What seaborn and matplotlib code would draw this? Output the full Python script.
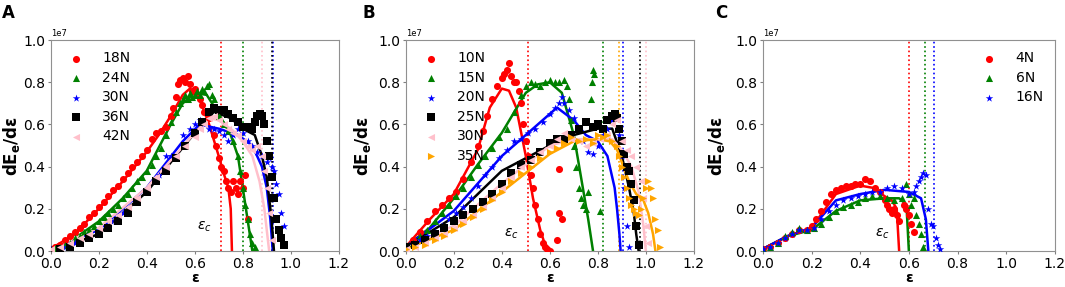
import matplotlib
matplotlib.use("Agg")
import numpy as np
import pandas as pd
import seaborn as sns
import matplotlib.pyplot as plt

# ---------------- panel A (values in units of 1e7) ----------------
a18_x = [0.0, 0.02, 0.04, 0.06, 0.08, 0.10, 0.12, 0.14, 0.16, 0.18, 0.20, 0.22, 0.24, 0.26, 0.28, 0.30,
         0.32, 0.34, 0.36, 0.38, 0.40, 0.42, 0.44, 0.46, 0.48, 0.50, 0.51, 0.52, 0.53, 0.54, 0.55, 0.56,
         0.57, 0.58, 0.59, 0.60, 0.61, 0.62, 0.63, 0.64, 0.66, 0.68, 0.69, 0.70, 0.71, 0.72, 0.73, 0.74,
         0.75, 0.76, 0.77, 0.78, 0.79, 0.80, 0.81, 0.82]
a18_y = [0.01, 0.02, 0.03, 0.05, 0.07, 0.09, 0.11, 0.13, 0.16, 0.18, 0.21, 0.23, 0.26, 0.29, 0.31, 0.34,
         0.37, 0.40, 0.42, 0.45, 0.48, 0.53, 0.56, 0.57, 0.59, 0.64, 0.68, 0.73, 0.79, 0.81, 0.82, 0.80,
         0.83, 0.79, 0.76, 0.77, 0.74, 0.72, 0.69, 0.66, 0.63, 0.55, 0.50, 0.44, 0.40, 0.38, 0.33, 0.30,
         0.28, 0.33, 0.30, 0.27, 0.33, 0.30, 0.36, 0.15]
a18_fx = [0.0, 0.1, 0.2, 0.3, 0.4, 0.45, 0.5, 0.55, 0.58, 0.62, 0.66, 0.70, 0.72, 0.74, 0.75, 0.755]
a18_fy = [0.01, 0.08, 0.2, 0.33, 0.47, 0.55, 0.64, 0.74, 0.77, 0.72, 0.6, 0.45, 0.37, 0.3, 0.2, 0.0]

a24_x = [0.0, 0.02, 0.04, 0.06, 0.08, 0.10, 0.12, 0.14, 0.16, 0.18, 0.20, 0.22, 0.24, 0.26, 0.28, 0.30,
         0.32, 0.34, 0.36, 0.38, 0.40, 0.42, 0.44, 0.46, 0.48, 0.50, 0.52, 0.54, 0.55, 0.56, 0.57, 0.58,
         0.59, 0.60, 0.61, 0.62, 0.63, 0.64, 0.65, 0.66, 0.67, 0.68, 0.69, 0.70, 0.72, 0.74, 0.76, 0.78,
         0.79, 0.80, 0.81, 0.82, 0.83, 0.84, 0.85]
a24_y = [0.01, 0.015, 0.02, 0.03, 0.04, 0.06, 0.07, 0.09, 0.10, 0.12, 0.14, 0.16, 0.18, 0.20, 0.22, 0.25,
         0.27, 0.30, 0.33, 0.35, 0.38, 0.41, 0.45, 0.49, 0.55, 0.61, 0.66, 0.70, 0.72, 0.74, 0.72, 0.75,
         0.73, 0.74, 0.76, 0.74, 0.77, 0.76, 0.78, 0.79, 0.74, 0.72, 0.68, 0.64, 0.60, 0.57, 0.52, 0.45,
         0.38, 0.30, 0.22, 0.15, 0.08, 0.04, 0.02]
a24_fx = [0.0, 0.1, 0.2, 0.3, 0.4, 0.5, 0.55, 0.6, 0.65, 0.7, 0.75, 0.78, 0.8, 0.82, 0.84]
a24_fy = [0.01, 0.06, 0.14, 0.25, 0.38, 0.6, 0.7, 0.75, 0.74, 0.65, 0.55, 0.45, 0.3, 0.15, 0.0]

a30_x = [0.0, 0.05, 0.1, 0.15, 0.2, 0.25, 0.3, 0.35, 0.4, 0.45, 0.48, 0.5, 0.55, 0.58, 0.60, 0.62,
         0.64, 0.66, 0.68, 0.70, 0.72, 0.74, 0.76, 0.78, 0.80, 0.82, 0.84, 0.86, 0.88, 0.90, 0.91, 0.92,
         0.93, 0.94, 0.95, 0.96, 0.97]
a30_y = [0.01, 0.02, 0.04, 0.07, 0.10, 0.14, 0.18, 0.23, 0.29, 0.36, 0.45, 0.45, 0.55, 0.58, 0.60, 0.62,
         0.60, 0.58, 0.58, 0.57, 0.55, 0.52, 0.55, 0.58, 0.56, 0.52, 0.50, 0.47, 0.45, 0.42, 0.44, 0.40,
         0.38, 0.32, 0.27, 0.18, 0.12]
a30_fx = [0.0, 0.2, 0.4, 0.55, 0.62, 0.7, 0.78, 0.84, 0.88, 0.9, 0.915, 0.925]
a30_fy = [0.01, 0.1, 0.3, 0.52, 0.6, 0.58, 0.55, 0.5, 0.4, 0.3, 0.15, 0.0]

a36_x = [0.0, 0.04, 0.08, 0.12, 0.16, 0.20, 0.24, 0.28, 0.32, 0.36, 0.40, 0.44, 0.48, 0.52, 0.56, 0.60,
         0.63, 0.66, 0.68, 0.70, 0.72, 0.74, 0.76, 0.78, 0.80, 0.82, 0.84, 0.85, 0.86, 0.87, 0.88, 0.89,
         0.90, 0.91, 0.92, 0.93, 0.94, 0.95, 0.96, 0.97]
a36_y = [0.0, 0.01, 0.02, 0.04, 0.06, 0.08, 0.11, 0.14, 0.18, 0.23, 0.28, 0.33, 0.38, 0.44, 0.50, 0.56,
         0.61, 0.66, 0.68, 0.67, 0.67, 0.65, 0.63, 0.61, 0.59, 0.59, 0.58, 0.61, 0.64, 0.65, 0.64, 0.60,
         0.52, 0.45, 0.35, 0.25, 0.15, 0.10, 0.06, 0.03]
a36_fx = [0.0, 0.2, 0.4, 0.6, 0.68, 0.75, 0.8, 0.85, 0.88, 0.9, 0.92, 0.93]
a36_fy = [0.0, 0.08, 0.28, 0.56, 0.66, 0.63, 0.58, 0.55, 0.45, 0.35, 0.15, 0.0]

a42_x = [0.0, 0.04, 0.08, 0.12, 0.16, 0.20, 0.24, 0.28, 0.32, 0.36, 0.40, 0.44, 0.48, 0.52, 0.56, 0.60,
         0.62, 0.64, 0.66, 0.68, 0.70, 0.72, 0.74, 0.76, 0.78, 0.80, 0.82, 0.84, 0.86, 0.88, 0.89, 0.90,
         0.91, 0.92]
a42_y = [0.01, 0.02, 0.04, 0.06, 0.08, 0.11, 0.14, 0.17, 0.21, 0.25, 0.30, 0.35, 0.40, 0.45, 0.50, 0.54,
         0.58, 0.60, 0.63, 0.64, 0.62, 0.60, 0.58, 0.56, 0.55, 0.52, 0.50, 0.48, 0.50, 0.45, 0.38, 0.30,
         0.18, 0.05]
a42_fx = [0.0, 0.2, 0.4, 0.6, 0.66, 0.7, 0.76, 0.8, 0.84, 0.87, 0.89, 0.9, 0.91]
a42_fy = [0.01, 0.11, 0.3, 0.56, 0.63, 0.62, 0.57, 0.52, 0.45, 0.33, 0.2, 0.1, 0.0]

a_crit = [0.71, 0.80, 0.925, 0.92, 0.88]

# ---------------- panel B ----------------
b10_x = [0.0, 0.03, 0.06, 0.09, 0.12, 0.15, 0.18, 0.21, 0.24, 0.27, 0.30, 0.32, 0.34, 0.36, 0.38, 0.40,
         0.41, 0.42, 0.43, 0.44, 0.45, 0.46, 0.47, 0.48, 0.49, 0.50, 0.51, 0.52, 0.53, 0.54, 0.55, 0.56,
         0.57, 0.58, 0.59, 0.60, 0.63, 0.64, 0.64, 0.65]
b10_y = [0.02, 0.05, 0.09, 0.14, 0.19, 0.22, 0.25, 0.28, 0.34, 0.42, 0.50, 0.57, 0.64, 0.72, 0.78, 0.82,
         0.84, 0.86, 0.89, 0.83, 0.80, 0.80, 0.76, 0.70, 0.60, 0.52, 0.45, 0.36, 0.30, 0.22, 0.15, 0.08,
         0.04, 0.02, 0.01, 0.0, 0.05, 0.18, 0.39, 0.15]
b10_fx = [0.0, 0.1, 0.2, 0.3, 0.35, 0.4, 0.43, 0.46, 0.5, 0.53, 0.56, 0.58, 0.6]
b10_fy = [0.02, 0.15, 0.27, 0.48, 0.68, 0.77, 0.76, 0.68, 0.45, 0.25, 0.1, 0.03, 0.0]

b15_x = [0.0, 0.03, 0.06, 0.09, 0.12, 0.15, 0.18, 0.21, 0.24, 0.27, 0.30, 0.33, 0.36, 0.39, 0.42, 0.45,
         0.48, 0.50, 0.52, 0.54, 0.56, 0.58, 0.60, 0.62, 0.64, 0.66, 0.67, 0.68, 0.69, 0.70, 0.71, 0.72,
         0.73, 0.74, 0.75, 0.76, 0.77, 0.775, 0.78, 0.785, 0.81]
b15_y = [0.02, 0.04, 0.07, 0.10, 0.14, 0.18, 0.22, 0.26, 0.30, 0.35, 0.41, 0.45, 0.49, 0.54, 0.58, 0.66,
         0.74, 0.78, 0.80, 0.79, 0.78, 0.80, 0.81, 0.80, 0.80, 0.81, 0.78, 0.72, 0.62, 0.50, 0.40, 0.30,
         0.25, 0.22, 0.20, 0.28, 0.72, 0.80, 0.86, 0.84, 0.19]
b15_fx = [0.0, 0.1, 0.2, 0.3, 0.4, 0.5, 0.55, 0.6, 0.65, 0.7, 0.73, 0.76, 0.78]
b15_fy = [0.02, 0.11, 0.25, 0.41, 0.56, 0.75, 0.79, 0.80, 0.75, 0.55, 0.35, 0.15, 0.0]

b20_x = [0.0, 0.03, 0.06, 0.09, 0.12, 0.15, 0.18, 0.21, 0.24, 0.27, 0.30, 0.33, 0.36, 0.39, 0.42, 0.45,
         0.48, 0.51, 0.54, 0.57, 0.60, 0.62, 0.64, 0.65, 0.66, 0.68, 0.70, 0.72, 0.74, 0.76, 0.78, 0.80,
         0.82, 0.84, 0.86, 0.88, 0.89, 0.90, 0.91, 0.92, 0.93]
b20_y = [0.02, 0.03, 0.05, 0.07, 0.09, 0.12, 0.15, 0.18, 0.21, 0.25, 0.31, 0.36, 0.40, 0.44, 0.48, 0.52,
         0.53, 0.56, 0.58, 0.61, 0.65, 0.68, 0.70, 0.73, 0.70, 0.67, 0.63, 0.58, 0.52, 0.47, 0.46, 0.50,
         0.55, 0.58, 0.62, 0.63, 0.55, 0.45, 0.30, 0.12, 0.02]
b20_fx = [0.0, 0.2, 0.4, 0.55, 0.63, 0.7, 0.75, 0.8, 0.84, 0.87, 0.88, 0.89, 0.895]
b20_fy = [0.02, 0.19, 0.45, 0.6, 0.68, 0.62, 0.55, 0.52, 0.45, 0.3, 0.2, 0.08, 0.0]

b25_x = [0.0, 0.04, 0.08, 0.12, 0.16, 0.20, 0.24, 0.28, 0.32, 0.36, 0.40, 0.44, 0.48, 0.52, 0.56, 0.60,
         0.63, 0.66, 0.69, 0.72, 0.75, 0.78, 0.80, 0.82, 0.84, 0.86, 0.87, 0.88, 0.89, 0.90, 0.91, 0.92,
         0.93, 0.94, 0.95, 0.96, 0.97]
b25_y = [0.02, 0.03, 0.05, 0.08, 0.11, 0.14, 0.17, 0.20, 0.23, 0.27, 0.32, 0.37, 0.41, 0.43, 0.47, 0.51,
         0.53, 0.53, 0.55, 0.58, 0.61, 0.59, 0.60, 0.58, 0.62, 0.64, 0.65, 0.63, 0.58, 0.52, 0.46, 0.40,
         0.38, 0.32, 0.24, 0.12, 0.03]
b25_fx = [0.0, 0.2, 0.4, 0.6, 0.7, 0.8, 0.86, 0.9, 0.93, 0.95, 0.96, 0.97]
b25_fy = [0.02, 0.16, 0.38, 0.5, 0.55, 0.58, 0.58, 0.45, 0.3, 0.18, 0.08, 0.0]

b30_x = [0.0, 0.04, 0.08, 0.12, 0.16, 0.20, 0.24, 0.28, 0.32, 0.36, 0.40, 0.44, 0.48, 0.52, 0.56, 0.60,
         0.63, 0.66, 0.69, 0.72, 0.75, 0.78, 0.81, 0.84, 0.86, 0.88, 0.90, 0.92, 0.94, 0.96, 0.98, 0.99,
         1.00, 1.01]
b30_y = [0.01, 0.02, 0.04, 0.06, 0.08, 0.11, 0.14, 0.17, 0.21, 0.25, 0.30, 0.35, 0.40, 0.43, 0.47, 0.50,
         0.53, 0.56, 0.53, 0.52, 0.50, 0.51, 0.53, 0.55, 0.60, 0.62, 0.52, 0.48, 0.45, 0.40, 0.33, 0.25,
         0.12, 0.04]
b30_fx = [0.0, 0.2, 0.4, 0.6, 0.7, 0.8, 0.86, 0.9, 0.94, 0.97, 0.99, 1.0]
b30_fy = [0.01, 0.12, 0.32, 0.5, 0.53, 0.53, 0.53, 0.48, 0.4, 0.28, 0.12, 0.0]

b35_x = [0.0, 0.04, 0.08, 0.12, 0.16, 0.20, 0.24, 0.28, 0.32, 0.36, 0.40, 0.44, 0.48, 0.52, 0.56, 0.60,
         0.63, 0.66, 0.69, 0.72, 0.75, 0.78, 0.80, 0.82, 0.84, 0.86, 0.88, 0.89, 0.90, 0.91, 0.92, 0.93,
         0.94, 0.95, 0.96, 0.97, 0.98, 0.99, 1.00, 1.01, 1.02, 1.03, 1.04, 1.05, 1.06]
b35_y = [0.01, 0.02, 0.03, 0.05, 0.07, 0.10, 0.13, 0.16, 0.20, 0.24, 0.28, 0.33, 0.37, 0.40, 0.44, 0.47,
         0.49, 0.51, 0.54, 0.52, 0.53, 0.51, 0.55, 0.54, 0.55, 0.52, 0.50, 0.45, 0.40, 0.35, 0.30, 0.25,
         0.22, 0.20, 0.18, 0.17, 0.20, 0.25, 0.30, 0.33, 0.30, 0.25, 0.15, 0.10, 0.02]
b35_fx = [0.0, 0.2, 0.4, 0.6, 0.7, 0.8, 0.85, 0.88, 0.9, 0.93, 0.96, 0.99, 1.01, 1.03, 1.04]
b35_fy = [0.01, 0.1, 0.28, 0.46, 0.52, 0.53, 0.52, 0.48, 0.42, 0.33, 0.27, 0.24, 0.18, 0.08, 0.0]

b_crit = [0.51, 0.82, 0.905, 0.975, 1.0, 0.89]

# ---------------- panel C ----------------
c4_x = [0.0, 0.03, 0.06, 0.09, 0.12, 0.15, 0.18, 0.20, 0.22, 0.24, 0.26, 0.28, 0.30, 0.32, 0.34, 0.36,
        0.38, 0.40, 0.42, 0.44, 0.46, 0.48, 0.50, 0.51, 0.52, 0.53, 0.54, 0.55, 0.56, 0.58, 0.59, 0.60,
        0.61, 0.62]
c4_y = [0.01, 0.02, 0.04, 0.06, 0.08, 0.10, 0.10, 0.12, 0.15, 0.19, 0.23, 0.27, 0.29, 0.30, 0.31, 0.31,
        0.32, 0.32, 0.34, 0.33, 0.30, 0.28, 0.24, 0.22, 0.20, 0.18, 0.20, 0.17, 0.14, 0.22, 0.20, 0.17,
        0.13, 0.09]
c4_fx = [0.0, 0.1, 0.2, 0.3, 0.4, 0.45, 0.5, 0.53, 0.55, 0.56]
c4_fy = [0.01, 0.07, 0.11, 0.27, 0.31, 0.3, 0.26, 0.24, 0.2, 0.0]

c6_x = [0.0, 0.03, 0.06, 0.09, 0.12, 0.15, 0.18, 0.21, 0.24, 0.27, 0.30, 0.33, 0.36, 0.39, 0.42, 0.45,
        0.48, 0.51, 0.54, 0.57, 0.59, 0.60, 0.61, 0.62, 0.63, 0.64, 0.65, 0.66]
c6_y = [0.01, 0.02, 0.04, 0.07, 0.09, 0.11, 0.10, 0.11, 0.13, 0.16, 0.19, 0.21, 0.22, 0.23, 0.25, 0.26,
        0.26, 0.25, 0.24, 0.25, 0.32, 0.27, 0.22, 0.25, 0.17, 0.13, 0.08, 0.02]
c6_fx = [0.0, 0.1, 0.2, 0.3, 0.4, 0.5, 0.56, 0.59, 0.6]
c6_fy = [0.01, 0.07, 0.1, 0.19, 0.24, 0.25, 0.25, 0.22, 0.0]

c16_x = [0.0, 0.03, 0.06, 0.09, 0.12, 0.15, 0.18, 0.21, 0.24, 0.27, 0.30, 0.33, 0.36, 0.39, 0.42, 0.45,
         0.48, 0.51, 0.54, 0.57, 0.60, 0.62, 0.63, 0.64, 0.65, 0.66, 0.67, 0.68, 0.69, 0.70, 0.71, 0.72,
         0.73]
c16_y = [0.01, 0.02, 0.04, 0.06, 0.08, 0.10, 0.10, 0.11, 0.15, 0.19, 0.22, 0.24, 0.25, 0.26, 0.27, 0.28,
         0.28, 0.30, 0.31, 0.30, 0.27, 0.28, 0.31, 0.33, 0.35, 0.37, 0.36, 0.20, 0.13, 0.12, 0.06, 0.03,
         0.01]
c16_fx = [0.0, 0.1, 0.2, 0.3, 0.4, 0.5, 0.6, 0.65, 0.67, 0.68]
c16_fy = [0.01, 0.07, 0.11, 0.24, 0.27, 0.29, 0.28, 0.25, 0.15, 0.0]

c_crit = [0.60, 0.665, 0.705]

# ---------------- drawing ----------------
SCALE = 1e7

panels = [
    ("A", [("18N", "red", "o", a18_x, a18_y, a18_fx, a18_fy),
           ("24N", "green", "^", a24_x, a24_y, a24_fx, a24_fy),
           ("30N", "blue", "*", a30_x, a30_y, a30_fx, a30_fy),
           ("36N", "black", "s", a36_x, a36_y, a36_fx, a36_fy),
           ("42N", "pink", "<", a42_x, a42_y, a42_fx, a42_fy)],
     a_crit, ["red", "green", "blue", "black", "pink"], (0.61, 0.1), "upper left"),
    ("B", [("10N", "red", "o", b10_x, b10_y, b10_fx, b10_fy),
           ("15N", "green", "^", b15_x, b15_y, b15_fx, b15_fy),
           ("20N", "blue", "*", b20_x, b20_y, b20_fx, b20_fy),
           ("25N", "black", "s", b25_x, b25_y, b25_fx, b25_fy),
           ("30N", "pink", "<", b30_x, b30_y, b30_fx, b30_fy),
           ("35N", "orange", ">", b35_x, b35_y, b35_fx, b35_fy)],
     b_crit, ["red", "green", "blue", "black", "pink", "orange"], (0.41, 0.07), "upper left"),
    ("C", [("4N", "red", "o", c4_x, c4_y, c4_fx, c4_fy),
           ("6N", "green", "^", c6_x, c6_y, c6_fx, c6_fy),
           ("16N", "blue", "*", c16_x, c16_y, c16_fx, c16_fy)],
     c_crit, ["red", "green", "blue"], (0.46, 0.07), "upper right"),
]

fig = plt.figure(figsize=(10.65, 2.87), dpi=100)
rects = [[0.0476, 0.1254, 0.2705, 0.735],
         [0.381, 0.1254, 0.2705, 0.735],
         [0.7164, 0.1254, 0.274, 0.735]]
ylab_x = [-0.10, -0.113, -0.123]
letter_x = [2 / 1065, 362 / 1065, 715 / 1065]

for i, ((letter, series, crit, crit_cols, ec_pos, leg_loc), rect) in enumerate(zip(panels, rects)):
    ax = fig.add_axes(rect)
    for name, col, mk, x, y, fx, fy in series:
        df = pd.DataFrame({"eps": x, "dE": np.array(y) * SCALE})
        size = 32 if mk == "*" else 26
        sns.scatterplot(data=df, x="eps", y="dE", color=col, marker=mk, s=size,
                        linewidth=0, label=name, ax=ax, zorder=3)
    for name, col, mk, x, y, fx, fy in series:
        fit = pd.DataFrame({"eps": fx, "dE": np.array(fy) * SCALE})
        sns.lineplot(data=fit, x="eps", y="dE", color=col, lw=1.8, sort=False,
                     estimator=None, ax=ax, zorder=2.5, legend=False)
    for xc, c in zip(crit, crit_cols):
        ax.axvline(xc, color=c, ls=":", lw=1.2, zorder=2)
    ax.text(ec_pos[0], ec_pos[1] * SCALE, r"$\varepsilon_c$", fontsize=10)

    ax.set_xlim(0, 1.2)
    ax.set_ylim(0, 1e7)
    ax.set_xticks([0.0, 0.2, 0.4, 0.6, 0.8, 1.0, 1.2])
    ax.set_yticks([0, 0.2e7, 0.4e7, 0.6e7, 0.8e7, 1.0e7])
    ax.tick_params(labelsize=10, color="#808080", length=2.5, pad=1.5)
    ax.yaxis.get_offset_text().set_fontsize(6)
    for sp in ax.spines.values():
        sp.set_color("#909090")
    ax.set_xlabel("ε", fontsize=10, fontweight="bold")
    ax.xaxis.set_label_coords(0.5, -0.097)
    ax.set_ylabel("dE$_\\mathbf{e}$/dε", fontsize=12, fontweight="bold")
    ax.yaxis.set_label_coords(ylab_x[i], 0.5)
    ax.legend(loc=leg_loc, frameon=False, fontsize=10, handletextpad=0.9,
              labelspacing=0.4, borderaxespad=0.4, markerscale=1.0)
    fig.text(letter_x[i], 1 - 4 / 287, letter, fontsize=12, fontweight="bold", va="top")

fig.savefig("out.png", dpi=100)
